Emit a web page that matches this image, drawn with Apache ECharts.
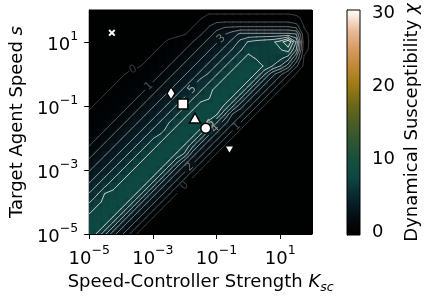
<!DOCTYPE html>
<html>
<head>
<meta charset="utf-8">
<script src="https://cdn.jsdelivr.net/npm/echarts@6.0.0/dist/echarts.min.js"></script>
<style>
html,body{margin:0;padding:0;background:#ffffff;}
#chart{width:426px;height:299px;}
</style>
</head>
<body>
<div id="chart"></div>
<script>
// ---------------- data ----------------
// log10 of the grid node positions
const kscExp = [-5,-4.75,-4.5,-4.25,-4,-3.75,-3.5,-3.25,-3,-2.75,-2.5,-2.25,-2,-1.75,-1.5,-1.25,-1,-0.75,-0.5,-0.25,0,0.25,0.5,0.75,1,1.25,1.5,1.75,2];
const speedExp = [-5,-4.75,-4.5,-4.25,-4,-3.75,-3.5,-3.25,-3,-2.75,-2.5,-2.25,-2,-1.75,-1.5,-1.25,-1,-0.75,-0.5,-0.25,0,0.25,0.5,0.75,1,1.25,1.5,1.75,2];
// dynamical susceptibility chi, one row per speed node (bottom s=1e-5 first), one column per Ksc node
const chiRows = [
[7.5,6.9,5.2,3.4,2.3,1.1,-.05,-.2,-.2,-.2,-.2,-.2,-.2,-.2,-.2,-.2,-.2,-.2,-.2,-.2,-.2,-.2,-.2,-.2,-.2,-.2,-.2,-.2,-.2],
[7.6,7.5,6.9,5.2,3.4,2.3,1.1,-.05,-.2,-.2,-.2,-.2,-.2,-.2,-.2,-.2,-.2,-.2,-.2,-.2,-.2,-.2,-.2,-.2,-.2,-.2,-.2,-.2,-.2],
[7.3,7.6,7.5,6.9,5.2,3.4,2.3,1.1,-.05,-.2,-.2,-.2,-.2,-.2,-.2,-.2,-.2,-.2,-.2,-.2,-.2,-.2,-.2,-.2,-.2,-.2,-.2,-.2,-.2],
[6.7,7.3,7.6,7.5,6.9,5.2,3.4,2.3,1.1,-.05,-.2,-.2,-.2,-.2,-.2,-.2,-.2,-.2,-.2,-.2,-.2,-.2,-.2,-.2,-.2,-.2,-.2,-.2,-.2],
[5.9,6.7,7.3,7.6,7.5,6.9,5.2,3.4,2.3,1.1,-.05,-.2,-.2,-.2,-.2,-.2,-.2,-.2,-.2,-.2,-.2,-.2,-.2,-.2,-.2,-.2,-.2,-.2,-.2],
[5.1,5.9,7.1,7.3,7.6,7.5,6.9,5.2,3.4,2.3,1.1,-.05,-.2,-.2,-.2,-.2,-.2,-.2,-.2,-.2,-.2,-.2,-.2,-.2,-.2,-.2,-.2,-.2,-.2],
[4.3,5.1,5.9,6.7,7.3,7.6,7.5,6.9,5.2,3.4,2.3,1.1,-.05,-.2,-.2,-.2,-.2,-.2,-.2,-.2,-.2,-.2,-.2,-.2,-.2,-.2,-.2,-.2,-.2],
[3.5,4.3,5.1,5.9,6.7,7.3,7.6,7.5,6.9,5.2,3.4,2.3,1.1,-.05,-.2,-.2,-.2,-.2,-.2,-.2,-.2,-.2,-.2,-.2,-.2,-.2,-.2,-.2,-.2],
[2.9,3.5,4.3,5.1,5.9,6.7,7.3,7.6,7.5,6.9,5.2,3.4,2.3,1.1,-.05,-.2,-.2,-.2,-.2,-.2,-.2,-.2,-.2,-.2,-.2,-.2,-.2,-.2,-.2],
[2.3,2.9,3.5,4.3,5.1,5.9,6.7,7.3,7.6,7.5,6.9,5.2,3.4,2.3,1.1,-.05,-.2,-.2,-.2,-.2,-.2,-.2,-.2,-.2,-.2,-.2,-.2,-.2,-.2],
[1.6,2.3,2.9,3.5,4.3,5.1,5.9,6.7,7.3,7.6,7.5,6.9,5.8,3.4,2.3,1.1,-.05,-.2,-.2,-.2,-.2,-.2,-.2,-.2,-.2,-.2,-.2,-.2,-.2],
[1,1.6,2.3,2.9,3.5,4.3,5.1,5.9,6.7,7.3,7.6,7.5,6.9,5.2,3.4,2.3,1.1,-.05,-.2,-.2,-.2,-.2,-.2,-.2,-.2,-.2,-.2,-.2,-.2],
[.75,1,1.6,2.3,2.9,3.5,4.3,5.1,5.9,6.7,7.3,7.6,7.5,6.9,5.2,3.4,2.3,1.1,-.05,-.2,-.2,-.2,-.2,-.2,-.2,-.2,-.2,-.2,-.2],
[.5,.75,1,1.6,2.3,2.9,3.5,4.3,5.1,5.4,6.7,7.3,7.6,7.5,6.9,5.2,3.4,2.3,1.1,-.05,-.2,-.2,-.2,-.2,-.2,-.2,-.2,-.2,-.2],
[.3,.5,.75,1,1.6,2.3,2.9,3.5,4.3,5.1,5.9,6.7,7.3,7.6,7.5,6.9,5.2,3.4,2.3,1.1,-.05,-.2,-.2,-.2,-.2,-.2,-.2,-.2,-.2],
[.1,.3,.5,.75,1,1.6,2.3,2.9,3.5,4.3,5.1,5.9,6.7,7.3,7.6,7.5,7.2,5.2,3.0,2.3,1.1,-.05,-.2,-.2,-.2,-.2,-.2,-.2,-.2],
[-.1,.1,.3,.5,.75,1,1.6,2.3,2.9,3.5,4.3,5.1,5.9,6.7,7.3,7.6,7.5,6.9,5.2,3.4,2.3,1.1,-.05,-.2,-.2,-.2,-.2,-.2,-.2],
[-.2,-.1,.1,.3,.5,.75,1,1.6,2.3,2.9,3.5,4.3,5.1,5.9,6.7,6.9,7.6,7.5,6.9,5.2,3.4,2.3,1.1,-.05,-.2,-.2,-.2,-.2,-.2],
[-.2,-.2,-.1,.1,.3,.5,.75,1,1.6,2.3,2.9,3.5,4.3,5.1,5.9,6.7,7.3,7.6,7.5,6.9,5.2,3.4,2.3,1.1,-.05,-.2,-.2,-.2,-.2],
[-.2,-.2,-.2,-.1,.1,.3,.5,.75,1,1.6,2.3,2.9,3.5,4.3,5.5,5.9,6.7,7.3,7.6,7.5,6.9,5.2,3.4,2.3,1.1,-.05,-.2,-.2,-.2],
[-.2,-.2,-.2,-.2,-.1,.1,.3,.5,.75,1,1.6,2.3,2.9,3.5,4.3,5.1,5.9,6.7,7.3,7.6,7.5,6.9,5.2,3.4,2.3,1.1,-.05,-.2,-.2],
[-.2,-.2,-.2,-.2,-.2,-.2,-.1,.1,.35,.6,1,1.6,2.3,2.9,3.5,4.3,5.1,5.9,6.7,7.3,7.6,7.5,6.9,6.0,5.0,3.5,1.2,-.2,-.2],
[-.2,-.2,-.2,-.2,-.2,-.2,-.2,-.1,.1,.35,.6,1,1.6,2.3,2.9,3.5,4.3,5.1,5.9,6.7,7.3,6.9,6.7,6.6,6.3,5.5,3.0,-.1,-.2],
[-.2,-.2,-.2,-.2,-.2,-.2,-.2,-.2,-.1,.1,.35,.6,1,1.6,2.3,2.9,3.5,4.3,5.1,5.9,6.7,6.8,6.7,6.8,6.9,7.4,5.0,.2,-.2],
[-.2,-.2,-.2,-.2,-.2,-.2,-.2,-.2,-.2,-.1,.1,.35,.6,1,1.6,2.3,2.9,3.5,4.3,5.3,6.1,6.4,6.6,6.8,7.4,9.0,6.0,.3,-.2],
[-.2,-.2,-.2,-.2,-.2,-.2,-.2,-.2,-.2,-.2,-.2,-.2,-.05,.3,.9,1.6,2.3,2.9,3.5,4.2,4.2,4.2,4.2,4.2,4.2,4.2,4.0,.2,-.2],
[-.2,-.2,-.2,-.2,-.2,-.2,-.2,-.2,-.2,-.2,-.2,-.2,-.2,-.05,.3,.9,1.6,1.8,1.8,1.8,1.8,1.8,1.8,1.8,1.8,1.8,1.4,-.05,-.2],
[-.2,-.2,-.2,-.2,-.2,-.2,-.2,-.2,-.2,-.2,-.2,-.2,-.2,-.2,-.05,.2,.2,.2,.2,.2,.2,.2,.2,.2,.2,.2,.1,-.1,-.2],
[-.2,-.2,-.2,-.2,-.2,-.2,-.2,-.2,-.2,-.2,-.2,-.2,-.2,-.2,-.2,-.2,-.2,-.2,-.2,-.2,-.2,-.2,-.2,-.2,-.2,-.2,-.2,-.2,-.2]
];
const contourLevels = [0,1,2,3,4,5,6,7,8];
// inline contour labels (level, Ksc, s)
const labelLevels = [0,1,3,5,6,4,1,2,0];
const labelKsc = [2.47e-4,6.47e-4,0.141,0.0166,0.0598,0.0986,0.473,0.0166,0.010];
const labelS = [1.72,0.372,9.5,0.333,0.0239,0.0239,0.0239,1.38e-3,3.08e-4];
// highlighted parameter points
const markerKsc = [5.15e-5,3.72e-3,8.73e-3,0.0210,0.0459,0.255];
const markerS = [19.4,0.250,0.1146,0.0422,0.0203,0.0044];
const xTickValues = [1e-5,1e-3,1e-1,1e1];
const yTickValues = [1e-5,1e-3,1e-1,1e1];
const cbarTickValues = [0,10,20,30];

// ---------------- styles ----------------
const FONT = 'DejaVu Sans';
const CMIN = -0.4, CMAX = 30.4;
const colorStopValues = [-0.4,1.5,3.5,5.5,7.5,10,12.5,15,17.5,20,22.5,25,27.5,30.4];
const colorStopHex = ['#000000','#03090d','#071a22','#0a2e33','#0e4842','#194e3d','#2f5631','#4a5d24','#6d6818','#9a7a14','#bd8832','#d69a60','#e8b998','#ffffff'];
const contourGray = ['#3c3c3c','#555555','#6a6a6a','#7e7e7e','#929292','#a6a6a6','#b8b8b8','#cacaca','#dcdcdc'];
const xPath = 'path://M2,0L5,3L8,0L10,2L7,5L10,8L8,10L5,7L2,10L0,8L3,5L0,2Z';
const markerStyle = [
  {symbol: xPath, size: 7, stroke: '#ffffff', lw: 0},
  {symbol: 'diamond', size: [8, 13], stroke: '#000000', lw: 1.4},
  {symbol: 'rect', size: 10, stroke: '#000000', lw: 1.5},
  {symbol: 'triangle', size: [11, 10], stroke: '#000000', lw: 1.5},
  {symbol: 'circle', size: 10, stroke: '#000000', lw: 1.5},
  {symbol: 'triangle', size: [7, 6], stroke: '#ffffff', lw: 0, rotate: 180}
];

chiRows.forEach(function (r, k) { if (r.length !== kscExp.length) throw new Error('row ' + k + ' has ' + r.length); });
if (chiRows.length !== speedExp.length) throw new Error('rows ' + chiRows.length);

function hexRgb(h) { return [parseInt(h.substr(1,2),16), parseInt(h.substr(3,2),16), parseInt(h.substr(5,2),16)]; }
const stopRgb = colorStopHex.map(hexRgb);
function cmap(v) {
  if (v <= colorStopValues[0]) return colorStopHex[0];
  for (let n = 1; n < colorStopValues.length; n++) {
    if (v <= colorStopValues[n]) {
      const t = (v - colorStopValues[n-1]) / (colorStopValues[n] - colorStopValues[n-1]);
      const a = stopRgb[n-1], b = stopRgb[n];
      return 'rgb(' + Math.round(a[0]+(b[0]-a[0])*t) + ',' + Math.round(a[1]+(b[1]-a[1])*t) + ',' + Math.round(a[2]+(b[2]-a[2])*t) + ')';
    }
  }
  return colorStopHex[colorStopHex.length-1];
}

// ---------------- heatmap cells ----------------
const cellData = [];
for (let j = 0; j < speedExp.length; j++) for (let i = 0; i < kscExp.length; i++) {
  cellData.push([Math.pow(10, kscExp[i]), Math.pow(10, speedExp[j]), chiRows[j][i]]);
}
const halfX = (kscExp[1] - kscExp[0]) / 2, halfY = (speedExp[1] - speedExp[0]) / 2;

// ---------------- contours (marching squares on the data grid) ----------------
const segs = [];
contourLevels.forEach(function (L) {
  for (let j = 0; j < speedExp.length - 1; j++) for (let i = 0; i < kscExp.length - 1; i++) {
    const xa = kscExp[i], xb = kscExp[i+1], ya = speedExp[j], yb = speedExp[j+1];
    const a = chiRows[j][i], b = chiRows[j][i+1], c = chiRows[j+1][i+1], d = chiRows[j+1][i];
    const p = [null, null, null, null];
    if ((a < L) !== (b < L)) p[0] = [xa + (xb-xa)*(L-a)/(b-a), ya];
    if ((b < L) !== (c < L)) p[1] = [xb, ya + (yb-ya)*(L-b)/(c-b)];
    if ((c < L) !== (d < L)) p[2] = [xb + (xa-xb)*(L-c)/(d-c), yb];
    if ((d < L) !== (a < L)) p[3] = [xa, yb + (ya-yb)*(L-d)/(a-d)];
    const idx = [0,1,2,3].filter(function (k) { return p[k]; });
    const push = function (u, v) { segs.push([u[0], u[1], v[0], v[1], L]); };
    if (idx.length === 2) push(p[idx[0]], p[idx[1]]);
    else if (idx.length === 4) {
      const center = (a + b + c + d) / 4;
      if ((center >= L) === (a >= L)) { push(p[0], p[1]); push(p[2], p[3]); }
      else { push(p[3], p[0]); push(p[1], p[2]); }
    }
  }
});
const segData = segs.map(function (s) { return [Math.pow(10,s[0]), Math.pow(10,s[1]), Math.pow(10,s[2]), Math.pow(10,s[3]), s[4]]; });

// snap labels onto the drawn contour of their level
const labelInfo = labelLevels.map(function (lev, n) {
  const tx = Math.log10(labelKsc[n]), ty = Math.log10(labelS[n]);
  let best = [tx, ty], bd = Infinity;
  segs.forEach(function (s) {
    if (s[4] !== lev) return;
    const mx = (s[0]+s[2])/2, my = (s[1]+s[3])/2, dd = (mx-tx)*(mx-tx) + (my-ty)*(my-ty);
    if (dd < bd) { bd = dd; best = [mx, my]; }
  });
  let sx = 0, sy = 0;
  segs.forEach(function (s) {
    if (s[4] !== lev) return;
    const mx = (s[0]+s[2])/2, my = (s[1]+s[3])/2;
    if ((mx-best[0])*(mx-best[0]) + (my-best[1])*(my-best[1]) < 0.05) {
      let dx = s[2]-s[0], dy = s[3]-s[1];
      if (dx < 0 || (dx === 0 && dy < 0)) { dx = -dx; dy = -dy; }
      sx += dx; sy += dy;
    }
  });
  return {level: lev, x: Math.pow(10, best[0]), y: Math.pow(10, best[1]), angle: (sx === 0 && sy === 0) ? Math.PI/4 : Math.atan2(sy, sx)};
});

function sciLabel(v) {
  const e = Math.round(Math.log10(v));
  return '{b|10}{s|' + (e < 0 ? '\u2212' + (-e) : String(e)) + '}';
}
const tickRich = {
  b: {fontSize: 18, fontFamily: FONT, color: '#000', lineHeight: 24, verticalAlign: 'bottom'},
  s: {fontSize: 12.5, fontFamily: FONT, color: '#000', lineHeight: 14, verticalAlign: 'top'}
};
const nameRich = {
  t: {fontSize: 18, fontFamily: FONT, color: '#000', lineHeight: 24},
  i: {fontSize: 18, fontFamily: FONT, color: '#000', lineHeight: 24, fontStyle: 'italic'},
  sub: {fontSize: 12.5, fontFamily: FONT, color: '#000', lineHeight: 14, fontStyle: 'italic', verticalAlign: 'bottom'}
};

const chart = echarts.init(document.getElementById('chart'), null, {renderer: 'canvas', width: 426, height: 299});
chart.setOption({
  animation: false,
  backgroundColor: '#ffffff',
  grid: [
    {left: 86, top: 10, width: 226, height: 226, show: true, backgroundColor: '#000', borderColor: '#000', borderWidth: 1},
    {left: 347, top: 10, width: 13, height: 225, show: false}
  ],
  xAxis: [
    {
      type: 'log', logBase: 10, min: 1e-5, max: 100, gridIndex: 0,
      axisLine: {show: true, onZero: false, lineStyle: {color: '#000', width: 1}},
      axisTick: {show: true, inside: false, length: 5, customValues: xTickValues, lineStyle: {color: '#000', width: 1}},
      minorTick: {show: false}, splitLine: {show: false},
      axisLabel: {customValues: xTickValues, formatter: sciLabel, margin: 10, rich: tickRich},
      name: '{t|Speed-Controller Strength }{i|K}{sub|sc}', nameLocation: 'middle', nameGap: 36,
      nameTextStyle: {rich: nameRich}
    },
    {type: 'value', gridIndex: 1, min: 0, max: 1, show: false}
  ],
  yAxis: [
    {
      type: 'log', logBase: 10, min: 1e-5, max: 100, gridIndex: 0,
      axisLine: {show: true, onZero: false, lineStyle: {color: '#000', width: 1}},
      axisTick: {show: true, inside: false, length: 5, customValues: yTickValues, lineStyle: {color: '#000', width: 1}},
      minorTick: {show: false}, splitLine: {show: false},
      axisLabel: {customValues: yTickValues, formatter: sciLabel, margin: 11, rich: tickRich},
      name: '{t|Target Agent Speed }{i|s}', nameLocation: 'middle', nameGap: 57,
      nameTextStyle: {rich: nameRich}
    },
    {
      type: 'value', gridIndex: 1, min: CMIN, max: CMAX, position: 'right',
      axisLine: {show: true, lineStyle: {color: '#000', width: 1}},
      axisTick: {show: true, inside: false, length: 5, customValues: cbarTickValues, lineStyle: {color: '#000', width: 1}},
      splitLine: {show: false},
      axisLabel: {customValues: cbarTickValues, margin: 12, fontSize: 18, fontFamily: FONT, color: '#000'},
      name: '{t|Dynamical Susceptibility }{i|\u03c7}', nameLocation: 'middle', nameGap: 40, nameRotate: 90,
      nameTextStyle: {rich: nameRich}
    }
  ],
  series: [
    {
      type: 'custom', name: 'chi', xAxisIndex: 0, yAxisIndex: 0, clip: true, z: 1,
      data: cellData,
      renderItem: function (params, api) {
        const lx = Math.log10(api.value(0)), ly = Math.log10(api.value(1));
        const p0 = api.coord([Math.pow(10, lx - halfX), Math.pow(10, ly - halfY)]);
        const p1 = api.coord([Math.pow(10, lx + halfX), Math.pow(10, ly + halfY)]);
        return {type: 'rect', shape: {x: p0[0], y: p1[1], width: p1[0]-p0[0]+0.6, height: p0[1]-p1[1]+0.6},
                style: {fill: cmap(api.value(2))}};
      }
    },
    {
      type: 'custom', name: 'contours', xAxisIndex: 0, yAxisIndex: 0, clip: true, z: 2,
      data: segData,
      renderItem: function (params, api) {
        const p1 = api.coord([api.value(0), api.value(1)]);
        const p2 = api.coord([api.value(2), api.value(3)]);
        const lev = api.value(4);
        const mx = (p1[0]+p2[0])/2, my = (p1[1]+p2[1])/2;
        for (let n = 0; n < labelInfo.length; n++) {
          const L = labelInfo[n];
          if (L.level !== lev) continue;
          const c = api.coord([L.x, L.y]);
          if (Math.hypot(mx - c[0], my - c[1]) < 6) return null;
        }
        return {type: 'line', shape: {x1: p1[0], y1: p1[1], x2: p2[0], y2: p2[1]},
                style: {stroke: contourGray[lev], lineWidth: 1, lineCap: 'round'}};
      }
    },
    {
      type: 'custom', name: 'contourLabels', xAxisIndex: 0, yAxisIndex: 0, clip: true, z: 3,
      data: labelInfo.map(function (L) { return [L.x, L.y, L.level]; }),
      renderItem: function (params, api) {
        const L = labelInfo[params.dataIndex];
        const c = api.coord([api.value(0), api.value(1)]);
        return {type: 'text', x: c[0], y: c[1], rotation: L.angle,
                style: {text: String(L.level), fill: contourGray[L.level], fontSize: 11, fontFamily: FONT,
                        align: 'center', verticalAlign: 'middle', textAlign: 'center', textVerticalAlign: 'middle'}};
      }
    },
    {
      type: 'scatter', name: 'points', xAxisIndex: 0, yAxisIndex: 0, z: 4,
      data: markerKsc.map(function (x, n) {
        const st = markerStyle[n];
        return {value: [x, markerS[n]], symbol: st.symbol, symbolSize: st.size, symbolRotate: st.rotate || 0,
                itemStyle: {color: '#ffffff', borderColor: st.stroke, borderWidth: st.lw, opacity: 1}};
      })
    },
    {
      type: 'custom', name: 'colorbar', xAxisIndex: 1, yAxisIndex: 1, z: 1,
      data: [[0.5, 15]],
      renderItem: function (params, api) {
        const cs = params.coordSys;
        const stops = colorStopValues.map(function (v, n) { return {offset: (v - CMIN) / (CMAX - CMIN), color: colorStopHex[n]}; });
        return {type: 'group', children: [
          {type: 'rect', shape: {x: cs.x, y: cs.y, width: cs.width, height: cs.height},
           style: {fill: new echarts.graphic.LinearGradient(0, 1, 0, 0, stops)}},
          {type: 'rect', shape: {x: cs.x, y: cs.y, width: cs.width, height: cs.height},
           style: {fill: 'none', stroke: '#000', lineWidth: 1}}
        ]};
      }
    }
  ]
});
</script>
</body>
</html>
